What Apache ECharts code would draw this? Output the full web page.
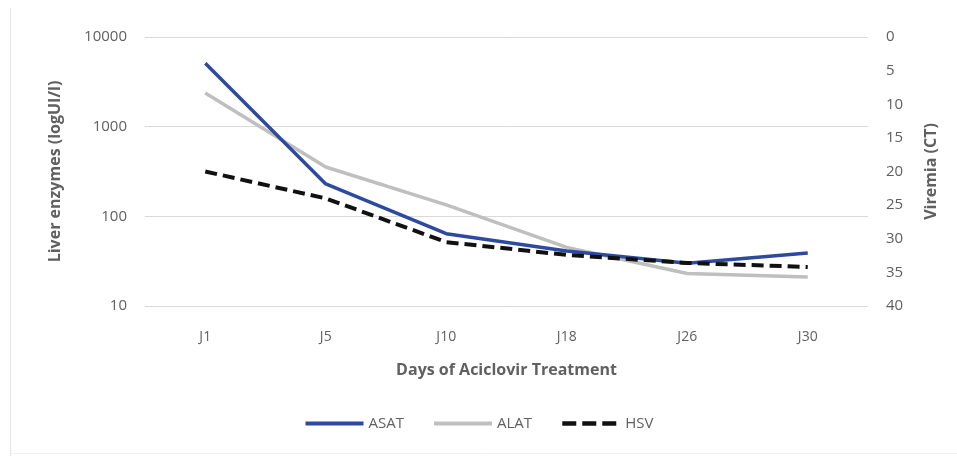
<!DOCTYPE html>
<html>
<head>
<meta charset="utf-8">
<script src="https://cdn.jsdelivr.net/npm/echarts@6/dist/echarts.min.js"></script>
<style>html,body{margin:0;padding:0;background:#fff}#c{width:957px;height:456px}</style>
</head>
<body>
<div id="c"></div>
<script>
const categories = ['J1','J5','J10','J18','J26','J30'];
const asat = [5100, 230, 64, 41, 30, 39];
const alat = [2380, 355, 134, 45, 23, 21];
const hsv = [20, 24, 30.5, 32.4, 33.6, 34.2];
const leftTicks = [10, 100, 1000, 10000];
const rightTicks = [0, 5, 10, 15, 20, 25, 30, 35, 40];

const FONT = "'Open Sans', sans-serif";
const TXT = '#606060';
const chart = echarts.init(document.getElementById('c'), null, {renderer: 'canvas'});
chart.setOption({
  animation: false,
  backgroundColor: '#fff',
  textStyle: {fontFamily: FONT},
  graphic: [
    {type: 'line', shape: {x1: 10.5, y1: 8, x2: 10.5, y2: 456}, style: {stroke: '#e2e2e2', lineWidth: 1}},
    {type: 'line', shape: {x1: 10, y1: 453.5, x2: 957, y2: 453.5}, style: {stroke: '#f0f0f0', lineWidth: 1}}
  ],
  grid: {left: 145, right: 89, top: 37, bottom: 150},
  legend: {
    bottom: 20, left: 'center',
    itemWidth: 58, itemHeight: 10, itemGap: 28,
    textStyle: {color: TXT, fontSize: 15, fontFamily: FONT},
    data: [
      {name: 'ASAT', itemStyle: {opacity: 0}, lineStyle: {width: 4}},
      {name: 'ALAT', itemStyle: {opacity: 0}, lineStyle: {width: 4}},
      {name: 'HSV', itemStyle: {opacity: 0}, lineStyle: {width: 4.5, type: [14, 6]}}
    ]
  },
  xAxis: {
    type: 'category', data: categories, boundaryGap: true,
    name: 'Days of Aciclovir Treatment', nameLocation: 'middle', nameGap: 56,
    nameTextStyle: {color: TXT, fontSize: 16, fontWeight: 'bold', fontFamily: FONT},
    axisLine: {show: false}, axisTick: {show: false},
    axisLabel: {color: TXT, fontSize: 14, margin: 24}
  },
  yAxis: [
    {
      type: 'log', logBase: 10, min: 10, max: 10000,
      name: 'Liver enzymes (logUI/l)', nameLocation: 'middle', nameGap: 82,
      nameTextStyle: {color: TXT, fontSize: 16, fontWeight: 'bold', fontFamily: FONT},
      axisLine: {show: false}, axisTick: {show: false},
      axisLabel: {color: TXT, fontSize: 15, margin: 18,
        formatter: function (v) { const r = Math.round(v); return leftTicks.indexOf(r) >= 0 ? String(r) : ''; }},
      splitLine: {lineStyle: {color: '#d9d9d9', width: 1}}
    },
    {
      type: 'value', inverse: true, min: 0, max: 40, interval: 5,
      name: 'Viremia (CT)', nameLocation: 'middle', nameGap: 55,
      nameTextStyle: {color: TXT, fontSize: 16, fontWeight: 'bold', fontFamily: FONT},
      axisLine: {show: false}, axisTick: {show: false},
      axisLabel: {color: TXT, fontSize: 15, margin: 18,
        formatter: function (v) { return rightTicks.indexOf(v) >= 0 ? String(v) : ''; }},
      splitLine: {show: false}
    }
  ],
  series: [
    {name: 'ASAT', type: 'line', data: asat, yAxisIndex: 0, symbol: 'none',
     lineStyle: {color: '#2E4A9E', width: 3.5}, itemStyle: {color: '#2E4A9E'}, z: 3},
    {name: 'ALAT', type: 'line', data: alat, yAxisIndex: 0, symbol: 'none',
     lineStyle: {color: '#BFBFBF', width: 3.5}, itemStyle: {color: '#BFBFBF'}, z: 2},
    {name: 'HSV', type: 'line', data: hsv, yAxisIndex: 1, symbol: 'none',
     lineStyle: {color: '#111', width: 4, type: [12, 6]}, itemStyle: {color: '#111'}, z: 4}
  ]
});
</script>
</body>
</html>
